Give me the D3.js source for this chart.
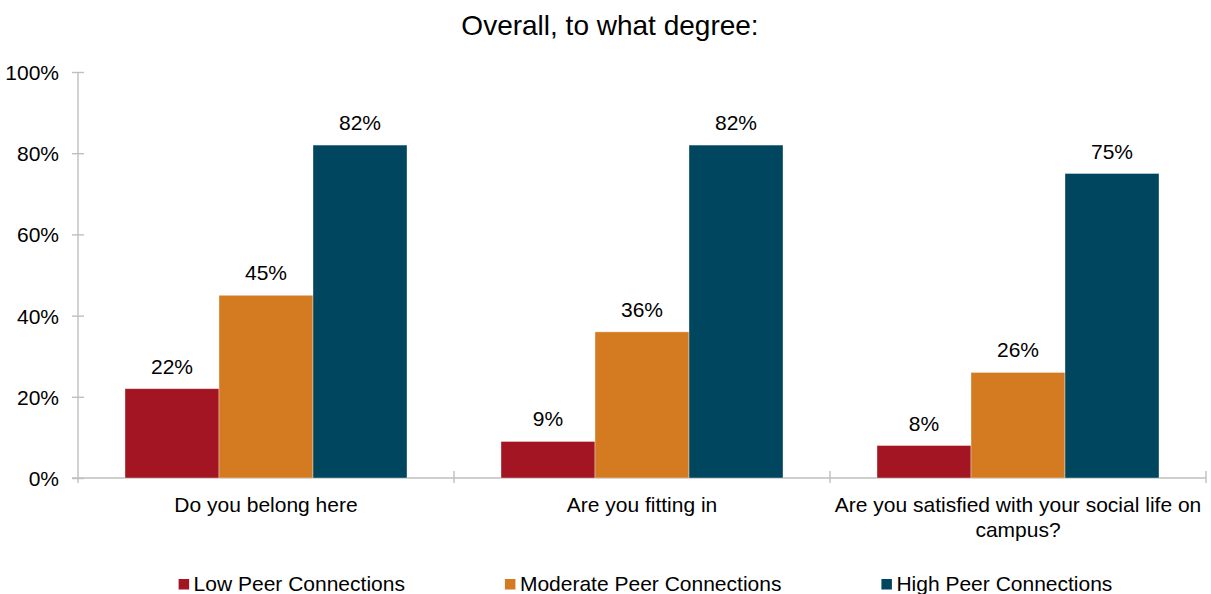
<!DOCTYPE html>
<html>
<head>
<meta charset="utf-8">
<script src="https://cdn.jsdelivr.net/npm/d3@7"></script>
<style>
  html, body { margin: 0; padding: 0; background: #fff; }
  svg { display: block; font-family: "Liberation Sans", Arial, Helvetica, sans-serif; }
</style>
</head>
<body>
<svg id="chart" width="1211" height="594"></svg>
<script>
// Questions asked, grouped along the x axis
const categories = ["Do you belong here", "Are you fitting in", "Are you satisfied with your social life on campus?"];
// Peer connection levels (one bar per level in each group)
const series = ["Low Peer Connections", "Moderate Peer Connections", "High Peer Connections"];
const lowValues = [22, 9, 8];
const moderateValues = [45, 36, 26];
const highValues = [82, 82, 75];
const yTicks = [0, 20, 40, 60, 80, 100];
const colors = ["#a31522", "#d47b22", "#00465f"];
const title = "Overall, to what degree:";

const seriesValues = [lowValues, moderateValues, highValues];
const rows = categories.map((c, i) => ({
  category: c,
  values: series.map((s, j) => ({ series: s, value: seriesValues[j][i], color: colors[j] }))
}));

const svg = d3.select("#chart");
const axisColor = "#bfbfbf";
const fontSize = 21;

const x0 = d3.scaleBand().domain(categories).range([78, 1206]).paddingInner(0).paddingOuter(0);
const x1 = d3.scaleBand().domain(series).range([0, x0.bandwidth()]).paddingInner(0).paddingOuter(0.5);
const y = d3.scaleLinear().domain([0, 100]).range([478, 72]);

// Title
svg.append("text")
  .attr("x", 610).attr("y", 35)
  .attr("text-anchor", "middle")
  .attr("font-size", 28)
  .attr("fill", "#000")
  .text(title);

// Y axis with ticks crossing the axis line
const yAxis = d3.axisLeft(y)
  .tickValues(yTicks)
  .tickFormat(d => d + "%")
  .tickSize(6)
  .tickPadding(13);
const yg = svg.append("g").attr("transform", "translate(78,0)").call(yAxis);
yg.select(".domain").remove();
yg.selectAll(".tick line").attr("x1", -6).attr("x2", 6).attr("stroke", axisColor).attr("stroke-width", 1.4);
yg.selectAll(".tick text").attr("font-size", fontSize).attr("fill", "#000").attr("font-family", null).attr("dy", "0.36em");
yg.append("line")
  .attr("x1", 0).attr("x2", 0)
  .attr("y1", y(100)).attr("y2", y(0) + 5)
  .attr("stroke", axisColor).attr("stroke-width", 1.4);

// X axis: baseline, boundary ticks, and wrapped category labels
const xg = svg.append("g").attr("transform", `translate(0,${y(0)})`);
xg.append("line")
  .attr("x1", x0.range()[0] - 6).attr("x2", x0.range()[1])
  .attr("y1", 0).attr("y2", 0)
  .attr("stroke", axisColor).attr("stroke-width", 1.4);
const boundaries = categories.map(c => x0(c)).concat([x0.range()[1]]);
xg.selectAll("line.bound").data(boundaries.slice(1)).join("line")
  .attr("class", "bound")
  .attr("x1", d => d).attr("x2", d => d)
  .attr("y1", -7).attr("y2", 5)
  .attr("stroke", axisColor).attr("stroke-width", 1.4);

const xAxis = d3.axisBottom(x0).tickSize(0).tickPadding(0);
const xl = svg.append("g").attr("transform", `translate(0,${y(0)})`).call(xAxis);
xl.select(".domain").remove();
xl.selectAll(".tick text")
  .attr("font-size", fontSize).attr("fill", "#000").attr("font-family", null)
  .attr("dy", null)
  .call(wrap, x0.bandwidth(), 34, 25);

function wrap(sel, width, firstBaseline, lineHeight) {
  sel.each(function () {
    const text = d3.select(this);
    const words = text.text().split(/\s+/);
    text.text(null);
    let line = [];
    let lineNo = 0;
    let tspan = text.append("tspan").attr("x", 0).attr("y", firstBaseline);
    for (const w of words) {
      line.push(w);
      tspan.text(line.join(" "));
      if (tspan.node().getComputedTextLength() > width && line.length > 1) {
        line.pop();
        tspan.text(line.join(" "));
        line = [w];
        lineNo++;
        tspan = text.append("tspan").attr("x", 0).attr("y", firstBaseline + lineNo * lineHeight).text(w);
      }
    }
  });
}

// Bars
const groups = svg.append("g").selectAll("g").data(rows).join("g")
  .attr("transform", d => `translate(${x0(d.category)},0)`);

groups.selectAll("rect").data(d => d.values).join("rect")
  .attr("x", d => x1(d.series))
  .attr("y", d => y(d.value))
  .attr("width", x1.bandwidth())
  .attr("height", d => y(0) - y(d.value))
  .attr("fill", d => d.color)
  .attr("stroke", "#ffffff")
  .attr("stroke-opacity", 0.45)
  .attr("stroke-width", 0.8);

// Value labels
groups.selectAll("text.val").data(d => d.values).join("text")
  .attr("class", "val")
  .attr("x", d => x1(d.series) + x1.bandwidth() / 2)
  .attr("y", d => y(d.value) - 15)
  .attr("text-anchor", "middle")
  .attr("font-size", fontSize)
  .attr("fill", "#000")
  .text(d => d.value + "%");

// Legend laid out from measured text widths and centred under the plot
const legend = svg.append("g");
const items = legend.selectAll("g").data(series).join("g");
items.append("rect")
  .attr("x", 0).attr("y", -12)
  .attr("width", 10.5).attr("height", 10.5)
  .attr("fill", (d, i) => colors[i]);
items.append("text")
  .attr("x", 15).attr("y", 0)
  .attr("font-size", fontSize)
  .attr("fill", "#000")
  .text(d => d);
const gap = 100;
let offset = 0;
const widths = [];
items.each(function () {
  const w = 15 + d3.select(this).select("text").node().getComputedTextLength();
  widths.push(w);
});
const total = d3.sum(widths) + gap * (widths.length - 1);
let start = 645.5 - total / 2;
items.attr("transform", (d, i) => {
  const t = `translate(${start + offset},591)`;
  offset += widths[i] + gap;
  return t;
});
</script>
</body>
</html>
